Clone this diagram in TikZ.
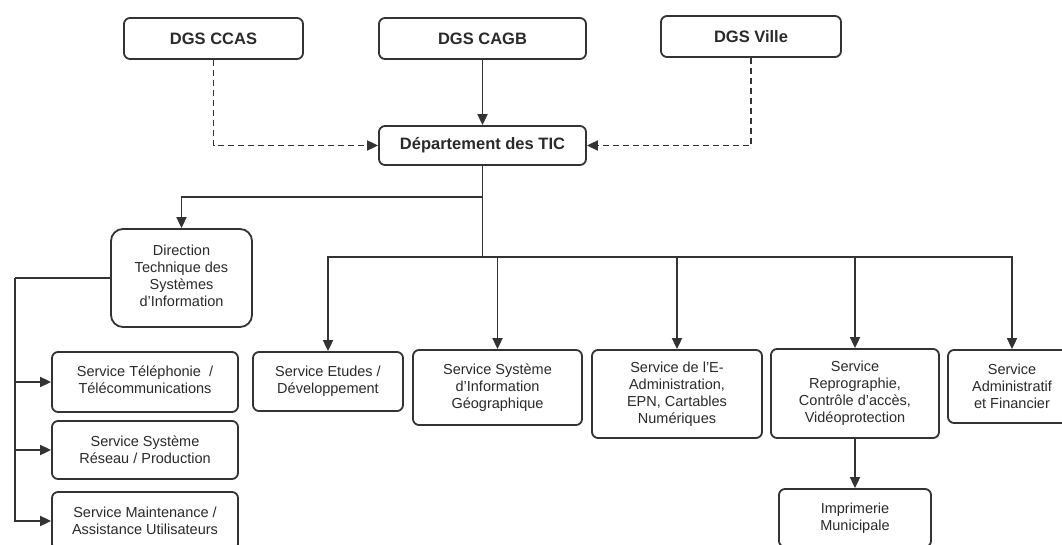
\documentclass[tikz,border=0pt]{standalone}
\usepackage{fontspec}
\setmainfont{Liberation Sans}
\usetikzlibrary{arrows.meta}
\definecolor{linec}{HTML}{333333}
\definecolor{textc}{HTML}{2A2A2A}
% centred block of lines, lifted by #1
\newcommand\liftlines[2]{\raisebox{#1}{\begin{tabular}{@{}c@{}}#2\end{tabular}}}
\tikzset{
  orgbox/.style={draw=linec, line width=1.8pt, rounded corners=6pt, align=center,
    inner sep=0pt, text=textc, font=\fontsize{14.5}{17}\selectfont},
  headbox/.style={orgbox, font=\fontsize{16.5}{19}\selectfont\bfseries},
  bigbox/.style={orgbox, rounded corners=12pt},
  link/.style={draw=linec, line width=1.8pt},
  arr/.style={link, -{Triangle[length=11pt,width=10pt]}},
  dasharr/.style={arr, dash pattern=on 6pt off 4pt}
}
\begin{document}
\begin{tikzpicture}[x=1pt,y=-1pt]
\useasboundingbox (0,0) rectangle (1062,545);
\fill[white] (0,0) rectangle (1062,545);
\clip (0,0) rectangle (1062,545);

% top level
\node[headbox, minimum width=179pt, minimum height=41pt] (ccas) at (213.5,38.5) {DGS CCAS};
\node[headbox, minimum width=207pt, minimum height=41pt] (cagb) at (482.5,38.5) {DGS CAGB};
\node[headbox, minimum width=180pt, minimum height=41pt] (ville) at (751,36.5) {DGS Ville};
\node[headbox, minimum width=207pt, minimum height=39pt] (tic) at (482.5,145.5) {Département des TIC};

% direction and its services
\node[bigbox, minimum width=141pt, minimum height=98pt] (dir) at (181.5,278)
  {\liftlines{5pt}{Direction\\Technique des\\Systèmes\\d'Information}};
\node[orgbox, minimum width=186pt, minimum height=60pt] (tel) at (145,382)
  {\liftlines{4pt}{Service Téléphonie~~/\\Télécommunications}};
\node[orgbox, minimum width=186pt, minimum height=58pt] (res) at (145,450)
  {Service Système\\Réseau / Production};
\node[orgbox, minimum width=186pt, minimum height=58pt] (mnt) at (145,521)
  {Service Maintenance /\\Assistance Utilisateurs};

% services attached to the department
\node[orgbox, minimum width=150pt, minimum height=59pt] (etu) at (328,381.5)
  {\liftlines{4pt}{Service Etudes /\\Développement}};
\node[orgbox, minimum width=169pt, minimum height=75pt] (sig) at (497.5,387.5)
  {Service Système\\d'Information\\Géographique};
\node[orgbox, minimum width=170pt, minimum height=88pt] (eadm) at (677,394)
  {Service de l'E-\\Administration,\\EPN, Cartables\\Numériques};
\node[orgbox, minimum width=168pt, minimum height=89pt] (repro) at (855,393.5)
  {Service\\Reprographie,\\Contrôle d'accès,\\Vidéoprotection};
\node[orgbox, minimum width=128pt, minimum height=73pt] (adm) at (1012,386.5)
  {Service\\Administratif\\et Financier};
\node[orgbox, minimum width=152pt, minimum height=58pt] (imp) at (855,518)
  {Imprimerie\\Municipale};

% junction points
\coordinate (b1) at (482.5,197);
\coordinate (bus) at (482.5,257);
\coordinate (lb) at (15,278);

% reporting lines
\draw[arr] (cagb.south) -- (tic.north);
\draw[dasharr] (ccas.south) |- (tic.west);
\draw[dasharr] (ville.south) |- (tic.east);

\draw[link] (tic.south) -- (bus);
\draw[arr] (b1) -| (dir.north);

\draw[arr] (bus) -| (etu.north);
\draw[arr] (bus) -| (sig.north);
\draw[arr] (bus) -| (eadm.north);
\draw[arr] (bus) -| (repro.north);
\draw[arr] (bus) -| (adm.north);

\draw[link] (dir.west) -- (lb);
\draw[arr] (lb) |- (tel.west);
\draw[arr] (lb) |- (res.west);
\draw[arr] (lb) |- (mnt.west);

\draw[arr] (repro.south) -- (imp.north);
\end{tikzpicture}
\end{document}
